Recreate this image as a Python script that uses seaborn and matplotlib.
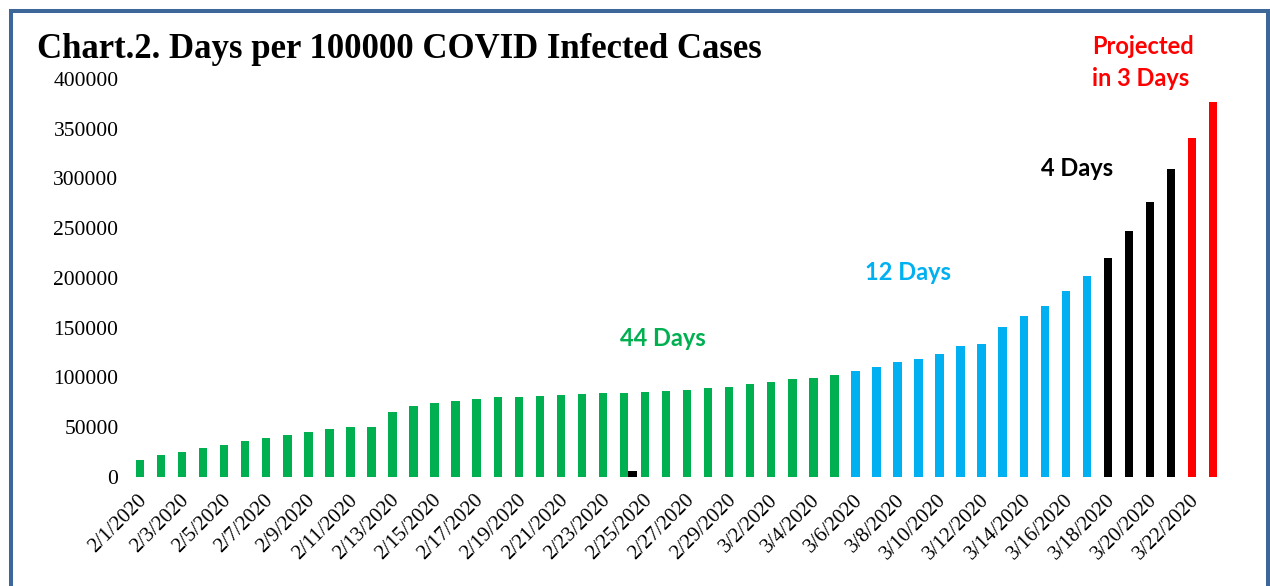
import pandas as pd
import numpy as np
import seaborn as sns
import matplotlib.pyplot as plt
from matplotlib.patches import Rectangle

# categories: one bar per day, 2/1/2020 .. 3/23/2020
dates = pd.date_range('2020-02-01', '2020-03-23')
date_labels = [f'{d.month}/{d.day}/{d.year}' for d in dates]

# cumulative cases
cases = [16800, 21900, 24600, 29200, 32300, 35600, 39300, 42000, 45300, 48000,
         49800, 50400, 65200, 71500, 74300, 76300, 78300, 80000, 80600, 81300,
         82000, 83300, 84000, 84600, 85300, 86300, 87700, 89000, 90700, 93700,
         95400, 98100, 99700, 102500,
         106500, 110800, 114900, 118600, 123300, 131000, 133700, 150100, 161200,
         172000, 186400, 201500,
         219600, 247600, 276500, 309700,
         340300, 377200]

# second (tiny) series, only one value on 2/24
other_date = '2/24/2020'
other_value = 5500

# how many days belong to each coloured period
periods = ['44 Days', '12 Days', '4 Days', 'Projected']
period_days = [34, 12, 4, 2]
period_colors = {'44 Days': '#00B050', '12 Days': '#00B0F0',
                 '4 Days': '#000000', 'Projected': '#FF0000'}

rows = []
for lab, v in zip(date_labels, cases):
    rows.append({'date': lab, 'value': v, 'series': 'main'})
    rows.append({'date': lab, 'value': other_value if lab == other_date else np.nan,
                 'series': 'other'})
df = pd.DataFrame(rows)

bar_period = []
for p, n in zip(periods, period_days):
    bar_period += [p] * n

fig = plt.figure(figsize=(12.7, 5.86), dpi=100)
ax = fig.add_axes([0.1053, 0.1865, 0.8615, 0.6787])

sns.barplot(data=df, x='date', y='value', hue='series', hue_order=['main', 'other'],
            order=date_labels, dodge=True, saturation=1, linewidth=0,
            palette={'main': '#00B050', 'other': '#000000'}, legend=False,
            errorbar=None, ax=ax)

for patch, p in zip(ax.containers[0], bar_period):
    patch.set_facecolor(period_colors[p])

ax.set_xlim(-0.5, len(date_labels) - 0.5)
ax.set_ylim(0, 400000)
ax.set_yticks(range(0, 400001, 50000))
ax.set_yticklabels([str(v) for v in range(0, 400001, 50000)],
                   fontfamily='Liberation Serif', fontsize=15.5)
ax.set_xticks(range(0, len(date_labels), 2))
ax.set_xticklabels(date_labels[::2], rotation=45, ha='right', va='center',
                   rotation_mode='anchor', fontfamily='Liberation Serif', fontsize=15)
ax.tick_params(axis='y', length=0, pad=11)
ax.tick_params(axis='x', length=0, pad=15)
ax.set_xlabel('')
ax.set_ylabel('')
for s in ax.spines.values():
    s.set_visible(False)

fig.text(37 / 1270, 1 - 50 / 586, 'Chart.2. Days per 100000 COVID Infected Cases',
         fontfamily='Liberation Serif', fontweight='bold', fontsize=25,
         ha='left', va='center')

ann = dict(fontfamily='Lato', fontweight='bold', fontsize=17, ha='center', va='center')
fig.text(663 / 1270, 1 - 339 / 586, '44 Days', color=period_colors['44 Days'], **ann)
fig.text(908 / 1270, 1 - 272 / 586, '12 Days', color=period_colors['12 Days'], **ann)
fig.text(1077 / 1270, 1 - 168 / 586, '4 Days', color=period_colors['4 Days'], **ann)
fig.text(1092 / 1270, 1 - 46.5 / 586, 'Projected', color=period_colors['Projected'],
         **{**ann, 'ha': 'left'})
fig.text(1092 / 1270, 1 - 78.5 / 586, 'in 3 Days', color=period_colors['Projected'],
         **{**ann, 'ha': 'left'})

# chart border (cut off at the bottom in the original)
fig.patches.append(Rectangle((11 / 1270, -0.1), (1268 - 11) / 1270, 1.1 - 10.5 / 586,
                             transform=fig.transFigure, fill=False,
                             edgecolor='#3D6799', linewidth=2.9, clip_on=False))

fig.savefig('out.png', dpi=100)
